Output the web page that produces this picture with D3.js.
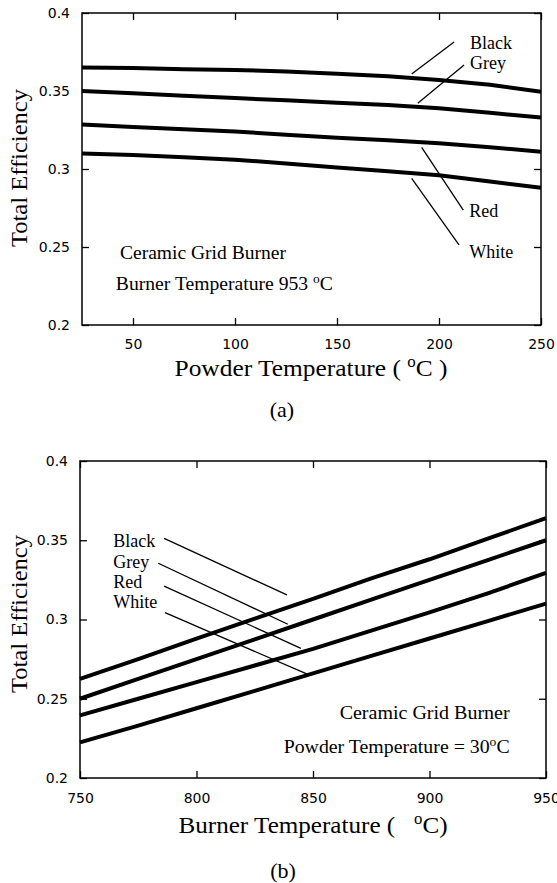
<!DOCTYPE html>
<html>
<head>
<meta charset="utf-8">
<script src="https://cdn.jsdelivr.net/npm/d3@7"></script>
<style>
  body { margin: 0; background: #fff; }
  .tick text { font-family: "DejaVu Sans", sans-serif; font-size: 14px; fill: #000; }
  .tick line { stroke: #000; stroke-width: 1.3; }
  .serif { font-family: "Liberation Serif", "Times New Roman", serif; fill: #000; white-space: pre; }
</style>
</head>
<body>
<div id="chart"></div>
<script>
// Data
var seriesNames = ["Black", "Grey", "Red", "White"];

// (a) powder temperature sweep
var powderTemp = [25, 50, 75, 100, 125, 150, 175, 200, 225, 250];
var effBlackA = [0.365, 0.3648, 0.364, 0.3635, 0.3625, 0.361, 0.3595, 0.357, 0.354, 0.3495];
var effGreyA  = [0.350, 0.3485, 0.347, 0.3455, 0.344, 0.3425, 0.341, 0.339, 0.336, 0.333];
var effRedA   = [0.3285, 0.327, 0.3255, 0.324, 0.322, 0.320, 0.3185, 0.3165, 0.314, 0.311];
var effWhiteA = [0.310, 0.309, 0.3075, 0.306, 0.3035, 0.301, 0.2985, 0.296, 0.292, 0.288];

// (b) burner temperature sweep
var burnerTemp = [750, 775, 800, 825, 850, 875, 900, 925, 950];
var effBlackB = [0.2625, 0.275, 0.288, 0.3005, 0.313, 0.326, 0.338, 0.351, 0.364];
var effGreyB  = [0.250, 0.2625, 0.275, 0.2875, 0.300, 0.3125, 0.325, 0.3375, 0.350];
var effRedB   = [0.2395, 0.250, 0.2605, 0.271, 0.2815, 0.293, 0.3045, 0.3165, 0.3294];
var effWhiteB = [0.2225, 0.233, 0.244, 0.255, 0.266, 0.277, 0.288, 0.299, 0.310];

// tick values
var xTicksA = [50, 100, 150, 200, 250];
var xTicksB = [750, 800, 850, 900, 950];
var yTicks = [0.2, 0.25, 0.3, 0.35, 0.4];

// leader lines [x1, y1, x2, y2] in data units, label [x, y]
var leadersA = [[207.4, 0.3814, 186.6, 0.3609], [212.3, 0.3667, 189.6, 0.3421],
                [191.5, 0.3139, 211.9, 0.2737], [186.6, 0.294, 209.8, 0.2513]];
var labelPosA = [[215.2, 0.3767], [215.2, 0.3641], [214.8, 0.269], [214.8, 0.2428]];
var leadersB = [[786.1, 0.3512, 838.8, 0.3155], [783.6, 0.3355, 839.2, 0.297],
                [786.1, 0.3211, 844.8, 0.2818], [786.5, 0.3043, 847.8, 0.2654]];
var labelPosB = [[764.3, 0.3459], [764.3, 0.3327], [764.3, 0.3197], [764.3, 0.3071]];

var svgWidth = 557;
var svgHeight = 883;

var svg = d3.select("#chart").append("svg")
  .attr("width", svgWidth)
  .attr("height", svgHeight);

function drawPanel(opt) {
  var w = opt.right - opt.left;
  var h = opt.bottom - opt.top;
  var g = svg.append("g")
    .attr("transform", "translate(" + opt.left + "," + opt.top + ")");

  var x = d3.scaleLinear().domain(opt.xDomain).range([0, w]);
  var y = d3.scaleLinear().domain([0.2, 0.4]).range([h, 0]);

  // axes with inward ticks
  g.append("g").attr("transform", "translate(0," + h + ")")
    .call(d3.axisBottom(x).tickValues(opt.xTicks).tickSizeInner(-7).tickSizeOuter(0).tickPadding(opt.xPad))
    .call(function(s) { s.select(".domain").remove(); });
  g.append("g")
    .call(d3.axisTop(x).tickValues(opt.xTicks).tickSizeInner(-7).tickSizeOuter(0).tickFormat(""))
    .call(function(s) { s.select(".domain").remove(); });
  g.append("g")
    .call(d3.axisLeft(y).tickValues(yTicks).tickSizeInner(-7).tickSizeOuter(0).tickPadding(12)
      .tickFormat(function(d) { return String(d); }))
    .call(function(s) { s.select(".domain").remove(); });
  g.append("g").attr("transform", "translate(" + w + ",0)")
    .call(d3.axisRight(y).tickValues(yTicks).tickSizeInner(-7).tickSizeOuter(0).tickFormat(""))
    .call(function(s) { s.select(".domain").remove(); });

  g.append("rect")
    .attr("width", w).attr("height", h)
    .attr("fill", "none").attr("stroke", "#000").attr("stroke-width", 1.5);

  // data lines
  var line = d3.line()
    .x(function(d) { return x(d[0]); })
    .y(function(d) { return y(d[1]); });

  opt.series.forEach(function(vals) {
    var pts = opt.xs.map(function(v, i) { return [v, vals[i]]; });
    g.append("path")
      .datum(pts)
      .attr("d", line)
      .attr("fill", "none")
      .attr("stroke", "#000")
      .attr("stroke-width", 4)
      .attr("stroke-linejoin", "round");
  });

  // leader lines and labels
  g.selectAll(".leader").data(opt.leaders).enter().append("line")
    .attr("x1", function(d) { return x(d[0]); })
    .attr("y1", function(d) { return y(d[1]); })
    .attr("x2", function(d) { return x(d[2]); })
    .attr("y2", function(d) { return y(d[3]); })
    .attr("stroke", "#000").attr("stroke-width", 1.3);

  g.selectAll(".lbl").data(opt.labelPos).enter().append("text")
    .attr("class", "serif")
    .attr("x", function(d) { return x(d[0]); })
    .attr("y", function(d) { return y(d[1]); })
    .style("font-size", "18px")
    .text(function(d, i) { return seriesNames[i]; });

  // notes
  opt.notes.forEach(function(n) {
    var t = g.append("text")
      .attr("class", "serif")
      .attr("x", x(n.x)).attr("y", y(n.y))
      .attr("text-anchor", n.anchor)
      .attr("textLength", n.len)
      .attr("lengthAdjust", "spacingAndGlyphs")
      .style("font-size", "19px");
    n.parts.forEach(function(p) {
      var s = t.append("tspan").text(p.t);
      if (p.sup) s.attr("dy", -7).style("font-size", "13px");
      if (p.down) s.attr("dy", 7);
    });
  });

  // axis titles
  var xt = g.append("text")
    .attr("class", "serif")
    .attr("x", opt.xTitleX - opt.left).attr("y", opt.xTitleY - opt.top)
    .attr("text-anchor", "middle")
    .attr("textLength", opt.xTitleLen)
    .attr("lengthAdjust", "spacingAndGlyphs")
    .style("font-size", "24px");
  opt.xTitle.forEach(function(p) {
    var s = xt.append("tspan").text(p.t);
    if (p.sup) s.attr("dy", -9).style("font-size", "16px");
    if (p.down) s.attr("dy", 9);
  });

  svg.append("text")
    .attr("class", "serif")
    .attr("transform", "translate(27," + opt.yTitleY + ") rotate(-90)")
    .attr("text-anchor", "middle")
    .attr("textLength", 158)
    .attr("lengthAdjust", "spacingAndGlyphs")
    .style("font-size", "23px")
    .text("Total Efficiency");

  svg.append("text")
    .attr("class", "serif")
    .attr("x", opt.capX).attr("y", opt.capY)
    .attr("text-anchor", "middle")
    .style("font-size", "22px")
    .text(opt.caption);
}

drawPanel({
  left: 82, right: 541, top: 13, bottom: 325,
  xDomain: [25, 250], xTicks: xTicksA, xPad: 14, xs: powderTemp,
  series: [effBlackA, effGreyA, effRedA, effWhiteA],
  leaders: leadersA, labelPos: labelPosA,
  notes: [
    { x: 43.6, y: 0.2426, anchor: "start", len: 166, parts: [{ t: "Ceramic Grid Burner" }] },
    { x: 41.6, y: 0.2224, anchor: "start", len: 217,
      parts: [{ t: "Burner Temperature 953\u00a0" }, { t: "o", sup: true }, { t: "C", down: true }] }
  ],
  xTitle: [{ t: "Powder Temperature (\u00a0" }, { t: "o", sup: true }, { t: "C )", down: true }],
  xTitleX: 311, xTitleY: 376, xTitleLen: 273,
  yTitleY: 168, caption: "(a)", capX: 282, capY: 417
});

drawPanel({
  left: 80, right: 546, top: 461, bottom: 778,
  xDomain: [750, 950], xTicks: xTicksB, xPad: 15, xs: burnerTemp,
  series: [effBlackB, effGreyB, effRedB, effWhiteB],
  leaders: leadersB, labelPos: labelPosB,
  notes: [
    { x: 934.4, y: 0.2372, anchor: "end", len: 170, parts: [{ t: "Ceramic Grid Burner" }] },
    { x: 934.4, y: 0.2158, anchor: "end", len: 226,
      parts: [{ t: "Powder Temperature = 30" }, { t: "o", sup: true }, { t: "C", down: true }] }
  ],
  xTitle: [{ t: "Burner Temperature (\u00a0\u00a0\u00a0" }, { t: "o", sup: true }, { t: "C)", down: true }],
  xTitleX: 313, xTitleY: 833, xTitleLen: 269,
  yTitleY: 614, caption: "(b)", capX: 283, capY: 878
});
</script>
</body>
</html>
